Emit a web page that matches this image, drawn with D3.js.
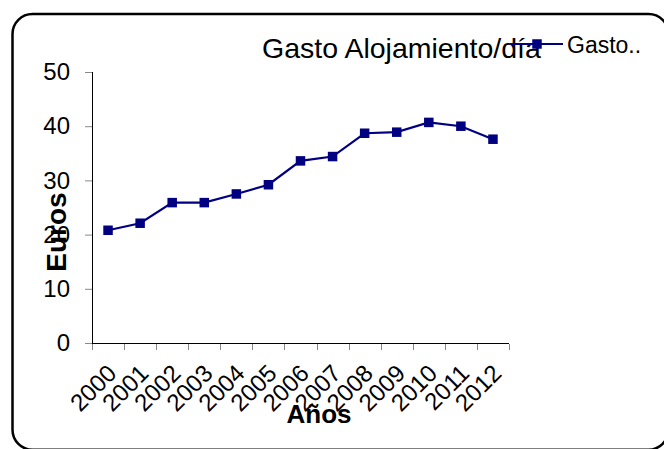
<!DOCTYPE html>
<html>
<head>
<meta charset="utf-8">
<script src="https://cdn.jsdelivr.net/npm/d3@7"></script>
<style>
  html, body { margin: 0; padding: 0; background: #fff; }
  svg { display: block; }
  text { font-family: "Liberation Sans", Arial, sans-serif; fill: #000; }
</style>
</head>
<body>
<svg id="chart" width="664" height="449"></svg>
<script>
// Daily accommodation spending per year (euros)
const years = ["2000","2001","2002","2003","2004","2005","2006","2007","2008","2009","2010","2011","2012"];
const gasto = [20.8, 22.1, 25.9, 25.9, 27.5, 29.2, 33.6, 34.4, 38.7, 38.9, 40.7, 40.0, 37.6];
const yTicks = [0, 10, 20, 30, 40, 50];
const titleText = "Gasto Alojamiento/día";
const seriesName = "Gasto..";
const xTitle = "Años";
const yTitle = "Euros";

const svg = d3.select("#chart");
const navy = "#000080";

// Outer rounded frame
svg.append("rect")
  .attr("x", 12.5).attr("y", 14)
  .attr("width", 656).attr("height", 435.7)
  .attr("rx", 20).attr("ry", 20)
  .attr("fill", "#fff")
  .attr("stroke", "#000").attr("stroke-width", 2.5);

const plot = { left: 92, right: 509, top: 72, bottom: 343 };

const x = d3.scaleBand().domain(years).range([plot.left, plot.right]);
const y = d3.scaleLinear().domain([0, 50]).range([plot.bottom, plot.top]);

// Y axis
const yAxis = svg.append("g").attr("transform", `translate(${plot.left},0)`)
  .call(d3.axisLeft(y).tickValues(yTicks).tickSize(7).tickPadding(15).tickFormat(d3.format("d")));
yAxis.select(".domain").attr("stroke", "#000").attr("d", `M0.5,${plot.top}V${plot.bottom}`);
yAxis.selectAll(".tick line").attr("stroke", "#888");
yAxis.selectAll(".tick text").attr("font-size", 24).attr("fill", "#000")
  .style("font-family", "'Liberation Sans', Arial, sans-serif");

// X axis: ticks at category boundaries
const xAxisG = svg.append("g").attr("transform", `translate(0,${plot.bottom})`);
xAxisG.append("line")
  .attr("x1", plot.left).attr("x2", plot.right)
  .attr("y1", 0.5).attr("y2", 0.5)
  .attr("stroke", "#000");
const bounds = years.map(d => x(d)).concat([x(years[years.length - 1]) + x.bandwidth()]);
xAxisG.selectAll("line.tk").data(bounds).join("line")
  .attr("class", "tk")
  .attr("x1", d => Math.round(d) + 0.5).attr("x2", d => Math.round(d) + 0.5)
  .attr("y1", 1).attr("y2", 7)
  .attr("stroke", "#888");
xAxisG.selectAll("text.lbl").data(years).join("text")
  .attr("class", "lbl")
  .attr("font-size", 24)
  .attr("text-anchor", "end")
  .attr("transform", d => `translate(${x(d) + x.bandwidth() / 2 - 2},${20}) rotate(-45)`)
  .attr("dy", "0.7em")
  .text(d => d);

// Series line
const line = d3.line()
  .x((d, i) => x(years[i]) + x.bandwidth() / 2)
  .y(d => y(d));
svg.append("path")
  .datum(gasto)
  .attr("d", line)
  .attr("fill", "none")
  .attr("stroke", navy)
  .attr("stroke-width", 2.2);

const ms = 9.5;
svg.selectAll("rect.mk").data(gasto).join("rect")
  .attr("class", "mk")
  .attr("x", (d, i) => x(years[i]) + x.bandwidth() / 2 - ms / 2)
  .attr("y", d => y(d) - ms / 2)
  .attr("width", ms).attr("height", ms)
  .attr("fill", navy);

// Axis titles
svg.append("text")
  .attr("x", 319).attr("y", 423)
  .attr("text-anchor", "middle")
  .attr("font-size", 26).attr("font-weight", "bold")
  .text(xTitle);
svg.append("text")
  .attr("transform", "translate(66,232) rotate(-90)")
  .attr("text-anchor", "middle")
  .attr("font-size", 28).attr("font-weight", "bold")
  .text(yTitle);

// Chart title
svg.append("text")
  .attr("x", 262).attr("y", 58)
  .attr("font-size", 28.5)
  .text(titleText);

// Legend
const lg = svg.append("g");
lg.append("line")
  .attr("x1", 510).attr("x2", 563).attr("y1", 44).attr("y2", 44)
  .attr("stroke", navy).attr("stroke-width", 2.2);
lg.append("rect")
  .attr("x", 537 - ms / 2).attr("y", 44 - ms / 2)
  .attr("width", ms).attr("height", ms)
  .attr("fill", navy);
lg.append("text")
  .attr("x", 567).attr("y", 53)
  .attr("font-size", 23)
  .text(seriesName);
</script>
</body>
</html>
